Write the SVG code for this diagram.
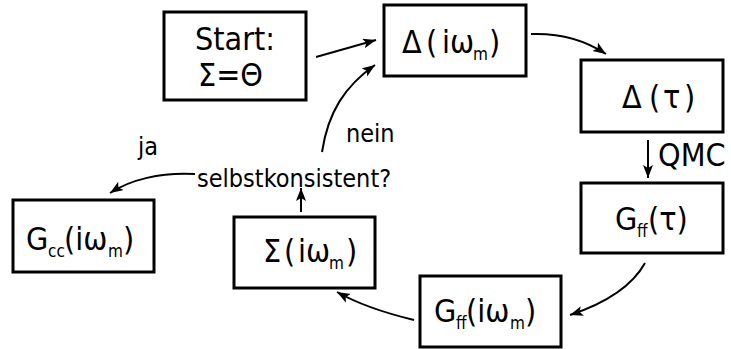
<svg xmlns="http://www.w3.org/2000/svg" width="731" height="349" viewBox="0 0 731 349">
<style>
.box{fill:#fff;stroke:#000;stroke-width:3}
.t{font-family:"DejaVu Sans Condensed","DejaVu Sans",sans-serif;font-stretch:condensed;font-size:32px;fill:#000}
.l{font-family:"DejaVu Sans Condensed","DejaVu Sans",sans-serif;font-stretch:condensed;font-size:25px;fill:#000}
.s{font-size:17px}
.c{fill:none;stroke:#000;stroke-width:2}
</style>
<defs>
<marker id="ah" markerWidth="14" markerHeight="12" refX="13" refY="5" orient="auto" markerUnits="userSpaceOnUse">
<path d="M0,0 L13,5 L0,10 L3,5 z" fill="#000"/>
</marker>
</defs>
<g id="connectors">
<path class="c" d="M316,57 L376,40" marker-end="url(#ah)"/>
<path class="c" d="M322,152 C328,112 345,86 375,65" marker-end="url(#ah)"/>
<path class="c" d="M531,34 C560,33 585,40 606,54" marker-end="url(#ah)"/>
<path class="c" d="M648,140 L648,178" marker-end="url(#ah)"/>
<path class="c" d="M645,263 C630,290 600,305 570,315" marker-end="url(#ah)"/>
<path class="c" d="M414,320 C385,313 360,305 337,292" marker-end="url(#ah)"/>
<path class="c" d="M301,212 L301,188" marker-end="url(#ah)"/>
<path class="c" d="M195,174 C160,172 130,180 110,193" marker-end="url(#ah)"/>
<text class="l" x="346" y="142">nein</text>
<text class="l" x="138" y="155">ja</text>
<text class="t" x="658" y="166">QMC</text>
</g>
<g id="start">
<rect class="box" x="164" y="12" width="142" height="88"/>
<text class="t" x="235" y="50" text-anchor="middle">Start:</text>
<text class="t" x="198" y="86">Σ=Θ</text>
</g>
<g id="delta_iw">
<rect class="box" x="384" y="5" width="142" height="71"/>
<text class="t" y="53"><tspan x="402">Δ</tspan><tspan x="426">(</tspan><tspan x="442">iω</tspan><tspan class="s" x="473" dy="7">m</tspan><tspan x="489" dy="-7">)</tspan></text>
</g>
<g id="delta_tau">
<rect class="box" x="581" y="60" width="142" height="72"/>
<text class="t" y="108"><tspan x="622">Δ</tspan><tspan x="649">(</tspan><tspan x="663">τ</tspan><tspan x="684">)</tspan></text>
</g>
<g id="gff_tau">
<rect class="box" x="581" y="183" width="142" height="70"/>
<text class="t" y="230"><tspan x="615">G</tspan><tspan class="s" x="637" dy="7">ff</tspan><tspan x="648" dy="-7">(τ)</tspan></text>
</g>
<g id="gff_iw">
<rect class="box" x="420" y="276" width="141" height="71"/>
<text class="t" y="322"><tspan x="434">G</tspan><tspan class="s" x="456" dy="7">ff</tspan><tspan x="466" dy="-7">(iω</tspan><tspan class="s" x="510" dy="7">m</tspan><tspan x="525" dy="-7">)</tspan></text>
</g>
<g id="sigma_iw">
<rect class="box" x="234" y="217" width="141" height="71"/>
<text class="t" y="262"><tspan x="263">Σ</tspan><tspan x="284">(</tspan><tspan x="298">iω</tspan><tspan class="s" x="329" dy="7">m</tspan><tspan x="346" dy="-7">)</tspan></text>
</g>
<g id="decision">
<text class="l" x="197" y="187">selbstkonsistent?</text>
</g>
<g id="gcc_iw">
<rect class="box" x="13" y="200" width="141" height="72"/>
<text class="t" y="250"><tspan x="26">G</tspan><tspan class="s" x="48" dy="7">cc</tspan><tspan x="64" dy="-7">(iω</tspan><tspan class="s" x="108" dy="7">m</tspan><tspan x="123" dy="-7">)</tspan></text>
</g>
</svg>
